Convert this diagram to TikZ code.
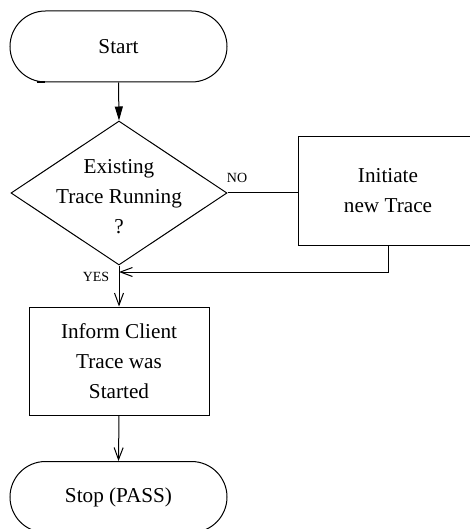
\documentclass[tikz,border=0pt]{standalone}
\usepackage{fontspec}
\setmainfont{Liberation Serif}
\usetikzlibrary{shapes.geometric,arrows.meta}
\begin{document}
\begin{tikzpicture}[x=0.5pt,y=-0.5pt,
  line width=0.5pt,
  txt/.style={font=\fontsize{10.6}{15}\selectfont, align=center},
  terminal/.style={draw, txt, rounded corners=17.75pt, minimum width=108.5pt, minimum height=35.5pt, inner sep=0pt},
  procbox/.style={draw, txt, minimum width=90pt, minimum height=54pt, inner sep=0pt},
  decision/.style={draw, diamond, minimum width=108pt, minimum height=72pt, inner sep=0pt},
  lbl/.style={font=\fontsize{7}{8}\selectfont, inner sep=0pt},
  fillarrow/.style={-{Triangle[length=7pt,width=4pt]}},
  openarrow/.style={-{Straight Barb[length=6pt,width=4.5pt]}}]
  \useasboundingbox (0,0) rectangle (470,529);

  % terminals, decision and process boxes
  \node[terminal] (start) at (118.5,46.5) {Start};
  \node[decision] (dec) at (119,193) {};
  \node[txt] (dectext) at (119,197) {Existing\\Trace Running\\?};
  \node[procbox] (init) at (388,191) {Initiate\\new Trace};
  \node[procbox] (inform) at (119,361) {Inform Client\\Trace was\\Started};
  \node[terminal] (stop) at (118.5,497) {Stop (PASS)};

  % short heavy stroke on the start terminal's lower edge
  \draw[line width=1.2pt] (37,82) -- (45,82);

  % branch labels
  \node[lbl] (no) at (237,178) {NO};
  \node[lbl] (yes) at (96,277) {YES};

  % connectors
  \coordinate (join) at (119,272);
  \draw[fillarrow] (start.south) -- (dec.north);
  \draw (dec.east) -- (dec.east -| init.west);
  \draw[openarrow] (init.south) |- (join);
  \draw[openarrow] (dec.south) -- (inform.north);
  \draw[openarrow] (inform.south) -- (stop.north);
\end{tikzpicture}
\end{document}
